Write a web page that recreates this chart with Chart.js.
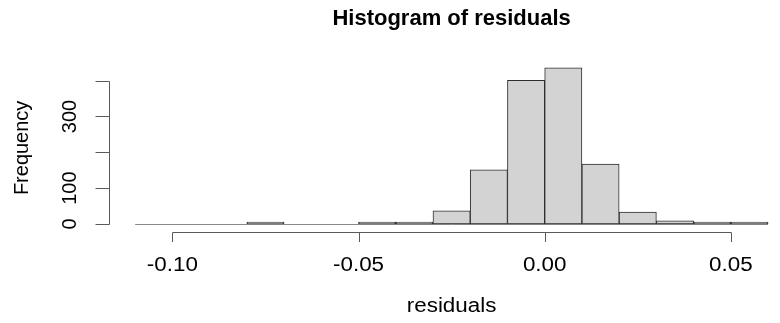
<!DOCTYPE html>
<html>
<head>
<meta charset="utf-8">
<script src="https://cdn.jsdelivr.net/npm/chart.js@4/dist/chart.umd.min.js"></script>
<style>
html,body{margin:0;padding:0;background:#fff;}
canvas{display:block;}
</style>
</head>
<body>
<canvas id="c" width="780" height="323"></canvas>
<script>
// Histogram bins (left edges), width 0.01
const binStarts = [-0.11,-0.10,-0.09,-0.08,-0.07,-0.06,-0.05,-0.04,-0.03,-0.02,-0.01,0.00,0.01,0.02,0.03,0.04,0.05];
const binWidth = 0.01;
const counts = [0,0,0,1,0,0,1,5,37,151,401,436,167,33,9,2,1];
const xTicks = [-0.10,-0.05,0.00,0.05];
const xTickLabels = ['-0.10','-0.05','0.00','0.05'];
const yTicks = [0,100,200,300,400];
const yTickLabels = ['0','100','','300',''];
const titleText = 'Histogram of residuals';
const xTitle = 'residuals';
const yTitle = 'Frequency';

const FONT = '"Liberation Sans", Arial, Helvetica, sans-serif';

const data = binStarts.map((s,i)=>({x: +(s + binWidth/2).toFixed(4), y: counts[i] === 0 ? null : counts[i]}));

function wideText(ctx, txt, x, y, sx){
  ctx.save();
  ctx.translate(x, y);
  ctx.scale(sx, 1);
  ctx.fillText(txt, 0, 0);
  ctx.restore();
}

const rAxes = {
  id: 'rAxes',
  beforeDatasetsDraw(chart){
    const ctx = chart.ctx, xs = chart.scales.x, ys = chart.scales.y;
    const y0 = ys.getPixelForValue(0);
    ctx.save();
    ctx.strokeStyle = '#8a8a8a';
    ctx.lineWidth = 1;
    ctx.beginPath();
    ctx.moveTo(xs.getPixelForValue(binStarts[0]), Math.round(y0)+0.5);
    ctx.lineTo(xs.getPixelForValue(binStarts[binStarts.length-1]+binWidth), Math.round(y0)+0.5);
    ctx.stroke();
    ctx.restore();
  },
  afterDraw(chart){
    const ctx = chart.ctx, xs = chart.scales.x, ys = chart.scales.y, ca = chart.chartArea;
    ctx.save();
    ctx.strokeStyle = '#5a5a5a';
    ctx.lineWidth = 1;
    // x axis
    const ay = Math.round(ca.bottom + 1.5) + 0.5;
    ctx.beginPath();
    ctx.moveTo(Math.round(xs.getPixelForValue(xTicks[0]))+0.5, ay);
    ctx.lineTo(Math.round(xs.getPixelForValue(xTicks[xTicks.length-1]))+0.5, ay);
    xTicks.forEach(t=>{
      const px = Math.round(xs.getPixelForValue(t))+0.5;
      ctx.moveTo(px, ay); ctx.lineTo(px, ay+9.5);
    });
    ctx.stroke();
    ctx.fillStyle = '#000';
    ctx.font = '20px ' + FONT;
    ctx.textAlign = 'center';
    ctx.textBaseline = 'middle';
    xTicks.forEach((t,i)=>{
      wideText(ctx, xTickLabels[i], xs.getPixelForValue(t), 265, 1.12);
    });
    // y axis
    const ax = Math.round(ca.left - 0.5) + 0.5;
    ctx.beginPath();
    ctx.moveTo(ax, Math.round(ys.getPixelForValue(yTicks[0]))+0.5);
    ctx.lineTo(ax, Math.round(ys.getPixelForValue(yTicks[yTicks.length-1]))+0.5);
    yTicks.forEach(t=>{
      const py = Math.round(ys.getPixelForValue(t))+0.5;
      ctx.moveTo(ax, py); ctx.lineTo(ax-14, py);
    });
    ctx.stroke();
    yTicks.forEach((t,i)=>{
      if(!yTickLabels[i]) return;
      ctx.save();
      ctx.translate(70, ys.getPixelForValue(t));
      ctx.rotate(-Math.PI/2);
      ctx.fillText(yTickLabels[i], 0, 0);
      ctx.restore();
    });
    // axis titles
    const cx = xs.getPixelForValue((binStarts[0] + binStarts[binStarts.length-1] + binWidth)/2);
    wideText(ctx, xTitle, cx, 306, 1.12);
    ctx.save();
    ctx.translate(22, (ca.top + ca.bottom)/2 + 2);
    ctx.rotate(-Math.PI/2);
    ctx.fillText(yTitle, 0, 0);
    ctx.restore();
    // main title
    ctx.font = 'bold 22px ' + FONT;
    ctx.fillText(titleText, cx, 19);
    ctx.restore();
  }
};

new Chart(document.getElementById('c'), {
  type: 'bar',
  data: {
    datasets: [{
      data: data,
      backgroundColor: '#d3d3d3',
      borderColor: '#2e2e2e',
      borderWidth: 1,
      borderSkipped: false,
      minBarLength: 2,
      barPercentage: 1,
      categoryPercentage: 1
    }]
  },
  options: {
    responsive: false,
    animation: false,
    events: [],
    layout: { padding: { left: 109.8, right: 0, top: 61.5, bottom: 92.75 } },
    plugins: { legend: { display: false }, title: { display: false }, tooltip: { enabled: false } },
    scales: {
      x: { type: 'linear', display: false, offset: false, min: -0.1168, max: 0.0632 },
      y: { type: 'linear', display: false, min: -17.44, max: 453.44 }
    }
  },
  plugins: [rAxes]
});
</script>
</body>
</html>
